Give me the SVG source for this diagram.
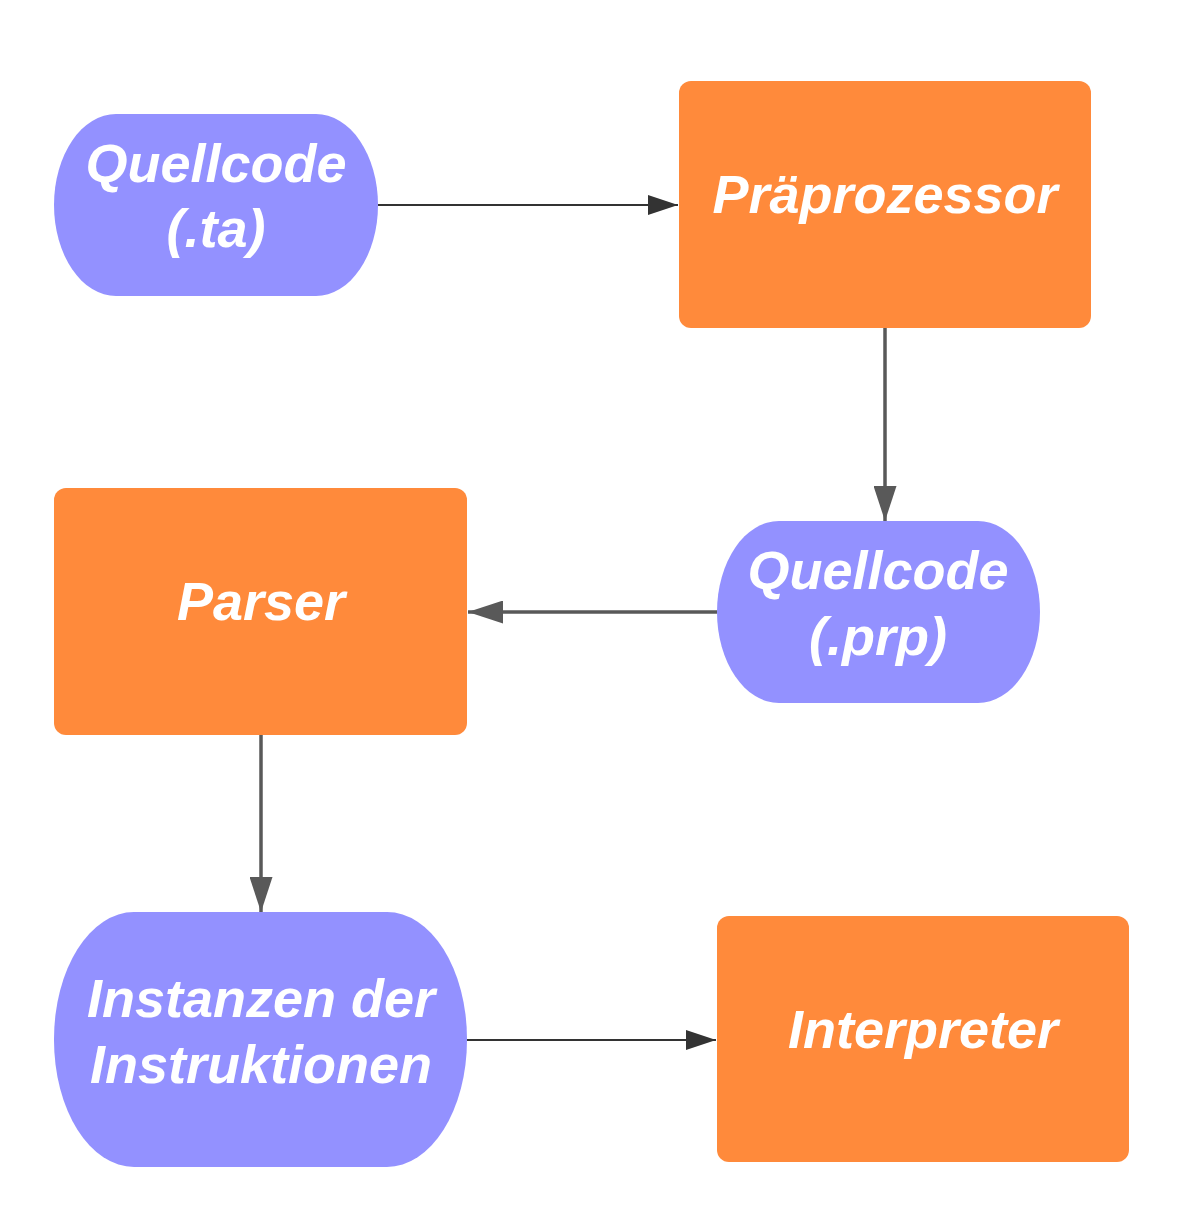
<svg xmlns="http://www.w3.org/2000/svg" width="1202" height="1223" viewBox="0 0 1202 1223">
<style>
.term{fill:#9391ff}
.proc{fill:#ff8a3b}
.lbl{font-family:"Liberation Sans",Arial,sans-serif;font-weight:bold;font-style:italic;font-size:54px;fill:#ffffff;text-anchor:middle}
.thin{stroke:#333333;stroke-width:2;fill:none}
.thick{stroke:#595959;stroke-width:3.5;fill:none}
</style>
<defs>
<marker id="ad" viewBox="0 0 30 20" refX="30" refY="10" markerWidth="30" markerHeight="20" markerUnits="userSpaceOnUse" orient="auto">
<path d="M0,0 L30,10 L0,20 Z" fill="#333333"/>
</marker>
<marker id="ag" viewBox="0 0 35 23" refX="35" refY="11.5" markerWidth="35" markerHeight="23" markerUnits="userSpaceOnUse" orient="auto">
<path d="M0,0 L35,11.5 L0,23 Z" fill="#595959"/>
</marker>
</defs>
<rect width="1202" height="1223" fill="#ffffff"/>
<g id="connectors">
<line class="thin" x1="378" y1="205" x2="678" y2="205" marker-end="url(#ad)"/>
<line class="thick" x1="885" y1="328" x2="885" y2="521" marker-end="url(#ag)"/>
<line class="thick" x1="717" y1="612" x2="468" y2="612" marker-end="url(#ag)"/>
<line class="thick" x1="261" y1="735" x2="261" y2="912" marker-end="url(#ag)"/>
<line class="thin" x1="467" y1="1040" x2="716" y2="1040" marker-end="url(#ad)"/>
</g>
<g id="quellcode-ta">
<rect class="term" x="54" y="114" width="324" height="182" rx="62" ry="91"/>
<text class="lbl" x="216" y="182">Quellcode</text>
<text class="lbl" x="216" y="247">(.ta)</text>
</g>
<g id="praeprozessor">
<rect class="proc" x="679" y="81" width="412" height="247" rx="12" ry="12"/>
<text class="lbl" x="885" y="213">Präprozessor</text>
</g>
<g id="quellcode-prp">
<rect class="term" x="717" y="521" width="323" height="182" rx="62" ry="91"/>
<text class="lbl" x="878" y="589">Quellcode</text>
<text class="lbl" x="878" y="655">(.prp)</text>
</g>
<g id="parser">
<rect class="proc" x="54" y="488" width="413" height="247" rx="12" ry="12"/>
<text class="lbl" x="261" y="620">Parser</text>
</g>
<g id="instanzen">
<rect class="term" x="54" y="912" width="413" height="255" rx="80" ry="127"/>
<text class="lbl" x="261" y="1017">Instanzen der</text>
<text class="lbl" x="261" y="1083">Instruktionen</text>
</g>
<g id="interpreter">
<rect class="proc" x="717" y="916" width="412" height="246" rx="12" ry="12"/>
<text class="lbl" x="923" y="1048">Interpreter</text>
</g>
</svg>
